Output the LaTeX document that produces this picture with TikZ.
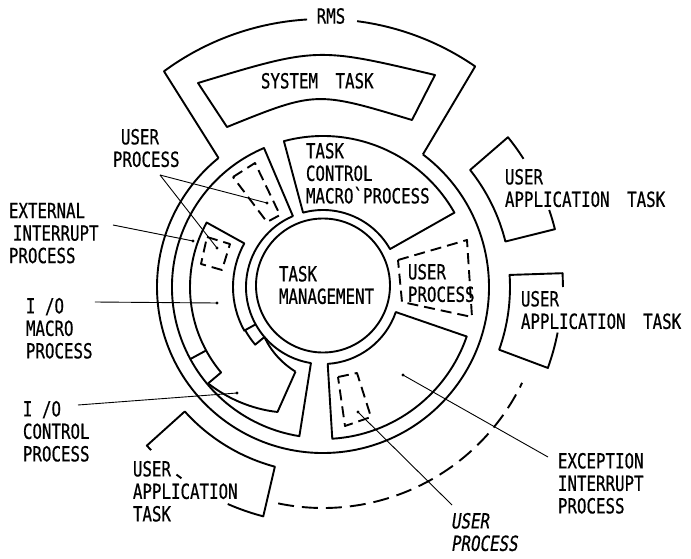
\documentclass[tikz,border=0pt]{standalone}
\usepackage{fontspec}
\newfontfamily\labfont[FakeStretch=0.76,FakeBold=0.6]{DejaVu Sans Mono}
\newfontfamily\labfontsl[FakeStretch=0.76,FakeSlant=0.15,FakeBold=0.6]{DejaVu Sans Mono}
\begin{document}
\begin{tikzpicture}[x=1pt,y=1pt,line width=1.9pt,line join=round,
  lbl/.style={font={\labfont\fontsize{20.8}{22.5}\selectfont},align=left,inner sep=0pt,anchor=north west},
  ptr/.style={line width=0.9pt},
  enddot/.style={circle,fill,inner sep=0pt,minimum size=3.2pt},
  sdash/.style={dash pattern=on 11pt off 6pt},
  ldash/.style={dash pattern=on 16pt off 8pt}]
% ---------- image-coordinate frame ----------
\begin{scope}[shift={(-323,287)},yscale=-1]
\useasboundingbox (0,0) rectangle (691,558);
\end{scope}
% ---------- central structure (origin = ring centre) ----------
\draw (0,1.5) circle[radius=67];
% task control macro process
\draw (29.5:77) -- (29.5:151) arc[start angle=29.5,end angle=105,radius=151]
      -- (105:77) arc[start angle=105,end angle=29.5,radius=77] -- cycle;
% exception interrupt process
\draw (-19:77) -- (-19:152) arc[start angle=-19,end angle=-86.5,radius=152]
      -- (-86.5:77) arc[start angle=-86.5,end angle=-19,radius=77] -- cycle;
% left container
\draw (113:77) -- (113:151) arc[start angle=113,end angle=261,radius=151]
      -- (261:77) arc[start angle=261,end angle=113,radius=77] -- cycle;
% I/O macro band (joined to the container at 209 deg)
\draw (208.5:151) -- (208.5:133) arc[start angle=208.5,end angle=151,radius=133]
      -- (151:90) arc[start angle=151,end angle=209,radius=90] -- (209:77);
% neck between the two bands
\draw (208.5:133) arc[start angle=208.5,end angle=220,radius=133] -- (220:150);
\draw (209:89) arc[start angle=209,end angle=220.5,radius=88] -- (220.5:77);
% I/O control box (flaring towards 220 deg)
\draw plot[domain=220:250,samples=16] (\x:{150-17*(\x-220)/30})
      -- (252:89);
\draw plot[domain=220.5:252,samples=16] (\x:{77+12*(\x-220.5)/31.5});
% RMS outline
\draw (53:166) arc[start angle=53,end angle=-231,radius=166];
\draw (129:166) -- (126.4:268) arc[start angle=126.4,end angle=93.4,radius=268];
\draw (82.7:268) arc[start angle=82.7,end angle=55.4,radius=268] -- (53:166);
% user application task boxes
\draw (32.6:238) arc[start angle=32.6,end angle=39,radius=238] -- (38.5:188)
      arc[start angle=38.5,end angle=14,radius=188] -- (14:239)
      arc[start angle=14,end angle=18.8,radius=239];
\draw (0:240) -- (3.3:240) -- (3.7:187) arc[start angle=3.7,end angle=-19.6,radius=187]
      -- (-19.8:239) arc[start angle=-19.8,end angle=-11,radius=239];
\draw (223.5:237) arc[start angle=223.5,end angle=222,radius=237] -- (222:186)
      arc[start angle=222,end angle=255,radius=186] -- (255.4:237)
      arc[start angle=255.4,end angle=246.3,radius=237];
\draw (232:238) arc[start angle=232,end angle=233.5,radius=238];
% dashed outer arc
\draw[ldash] (-101.7:221) arc[start angle=-101.7,end angle=-25.7,radius=221];
% ---------- image-coordinate items ----------
\begin{scope}[shift={(-323,287)},yscale=-1]
% system task box
\draw (198,83) .. controls (317,47) .. (435,75) -- (412,120)
      .. controls (316,91) .. (227,127) -- cycle;
% dashed user processes
\draw[sdash] (398,260) -- (467,240) -- (472,317) -- (402,302) -- cycle;
\draw[sdash] (233,177) -- (255,163) -- (280,215) -- (267,222) -- cycle;
\draw[sdash] (207,237) -- (230,244) -- (222,270) -- (201,264) -- cycle;
\draw[sdash] (338,377) -- (357,373) -- (371,417) -- (345,426) -- cycle;
% labels
\node[lbl,anchor=center] (rms) at (331,16) {RMS};
\node[lbl] (sys) at (260,72) {SYSTEM\hspace{8pt} TASK};
\node[lbl] (upl) at (112,128) {\hspace{8pt}USER\\PROCESS};
\node[lbl] (ext) at (8,202) {EXTERNAL\\\hspace{4pt}INTERRUPT\\PROCESS};
\node[lbl] (iom) at (25,297) {I /O\\MACRO\\PROCESS};
\node[lbl] (ioc) at (22,400) {I /O\\CONTROL\\PROCESS};
\node[lbl] (uabl) at (132,460) {USER\\APPLICATION\\TASK};
\node[lbl] (tcm) at (305,142) {TASK\\CONTROL\\MACRO`PROCESS};
\node[lbl] (tm) at (278,265) {TASK\\MANAGEMENT};
\node[lbl] (upr) at (407,263) {USER\\PROCESS};
\node[lbl] (uar1) at (504,168) {USER\\APPLICATION\hspace{8pt} TASK};
\node[lbl] (uar2) at (520,290) {USER\\APPLICATION\hspace{8pt} TASK};
\node[lbl] (exc) at (557,452) {EXCEPTION\\INTERRUPT\\PROCESS};
\node[lbl,font={\labfontsl\fontsize{20.8}{22.5}\selectfont}] (upb) at (450,512) {USER\\PROCESS};
% pointer coordinates
\coordinate (uplS) at (160,175);
\coordinate (uplA) at (267,203);
\coordinate (uplB) at (217,248);
\coordinate (extS) at (113,225);
\coordinate (extE) at (193,241);
\coordinate (iomS) at (95,302);
\coordinate (iomE) at (217,303);
\coordinate (iocS) at (78,405);
\coordinate (iocE) at (237,393);
\coordinate (excS) at (548,457);
\coordinate (excE) at (403,375);
\coordinate (upbS) at (452,505);
\coordinate (upbE) at (358,412);
\draw[ptr] (uplS) -- (uplA) node[enddot] {};
\draw[ptr] (uplS) -- (uplB) node[enddot] {};
\draw[ptr] (extS) -- (extE) node[enddot] {};
\draw[ptr] (iomS) -- (iomE) node[enddot] {};
\draw[ptr] (iocS) -- (iocE) node[enddot] {};
\draw[ptr] (excS) -- (excE) node[enddot] {};
\draw[ptr] (upbS) -- (upbE) node[enddot] {};
\end{scope}
\end{tikzpicture}
\end{document}
